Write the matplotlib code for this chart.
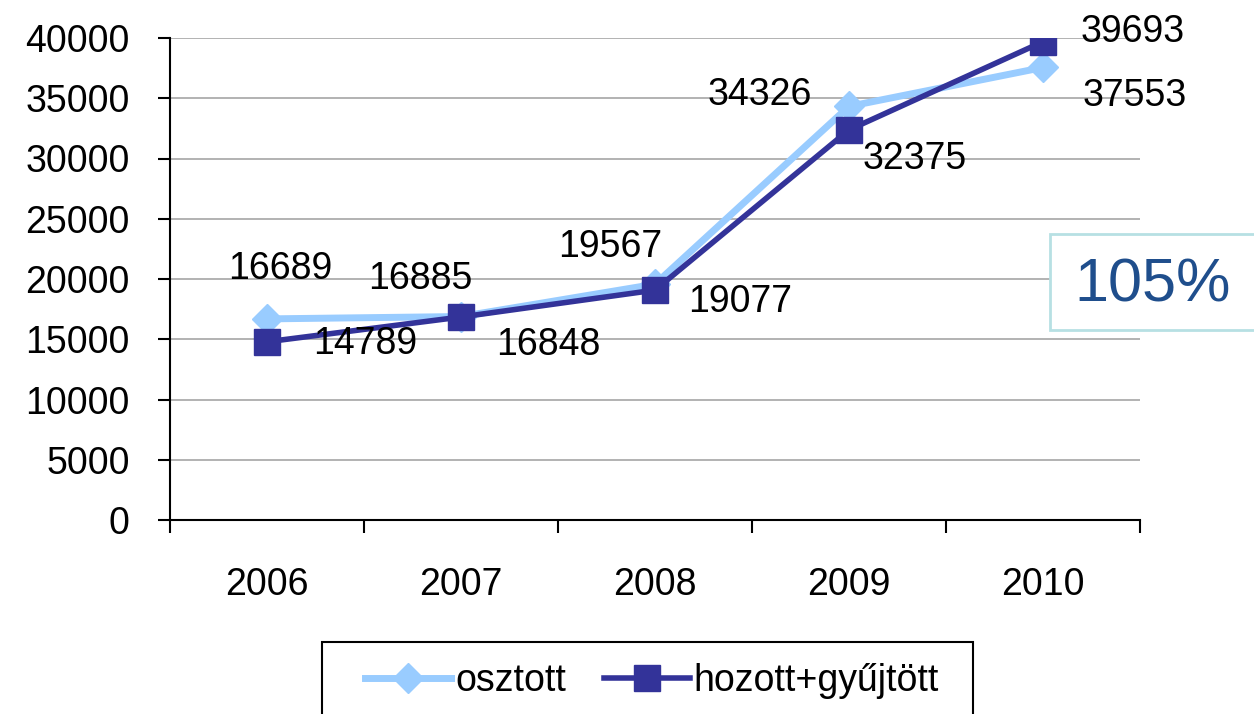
import numpy as np
import matplotlib.pyplot as plt
from matplotlib.patches import Rectangle

plt.rcParams['font.family'] = ['Liberation Sans', 'DejaVu Sans']

years = ['2006', '2007', '2008', '2009', '2010']
osztott = [16689, 16885, 19567, 34326, 37553]
hozott = [14789, 16848, 19077, 32375, 39693]
yticks = np.arange(0, 40001, 5000)

# label offsets in pixels (dx, dy up)
off_osztott = [(13, 50), (-41, 38), (-45, 37), (-89, 11), (92, -29)]
off_hozott = [(98, -2), (87, -28), (85, -12), (66, -29), (90, 10)]

light = '#99CCFF'
dark = '#333399'
FS = 27

fig = plt.figure(figsize=(12.54, 7.14), dpi=100)
ax = fig.add_axes([170 / 1254, 1 - 520 / 714, 970 / 1254, 482 / 714])

x = np.arange(len(years))
ax.plot(x, osztott, color=light, lw=5, marker='D', ms=15, mec=light, label='osztott', zorder=3)
ax.plot(x, hozott, color=dark, lw=4, marker='s', ms=19, mec=dark, label='hozott+gyűjtött', zorder=4)

for xi, v, (dx, dy) in zip(x, osztott, off_osztott):
    ax.annotate(str(v), (xi, v), xytext=(dx * 0.72, dy * 0.72), textcoords='offset points',
                ha='center', va='center', fontsize=FS, zorder=5)
for xi, v, (dx, dy) in zip(x, hozott, off_hozott):
    ax.annotate(str(v), (xi, v), xytext=(dx * 0.72, dy * 0.72), textcoords='offset points',
                ha='center', va='center', fontsize=FS, zorder=5)

ax.set_xlim(-0.5, len(years) - 0.5)
ax.set_ylim(0, 40000)
ax.set_yticks(yticks)
ax.set_yticklabels([str(t) for t in yticks], fontsize=FS)
ax.set_xticks(x)
ax.set_xticklabels(years, fontsize=FS)
ax.set_xticks(np.arange(-0.5, len(years)), minor=True)
ax.tick_params(axis='x', which='major', length=0, pad=34)
ax.tick_params(axis='x', which='minor', length=9, width=1.5, direction='out')
ax.tick_params(axis='y', length=9, width=1.5, direction='out', pad=20)
ax.yaxis.grid(True, color='#A6A6A6', lw=1.2)
ax.set_axisbelow(True)
for s in ['top', 'right']:
    ax.spines[s].set_visible(False)
for s in ['left', 'bottom']:
    ax.spines[s].set_linewidth(1.5)

# 105% box
fig.patches.append(Rectangle((1050 / 1254, 1 - 330 / 714), 300 / 1254, 96 / 714,
                             transform=fig.transFigure, fill=True, fc='white',
                             ec='#B7E0E3', lw=2))
fig.text(1153 / 1254, 1 - 286 / 714, '105%', fontsize=44, color='#1F4E8C',
         ha='center', va='center')

# legend box
fig.patches.append(Rectangle((322 / 1254, -0.05), 651 / 1254, 0.05 + 72 / 714,
                             transform=fig.transFigure, fill=False, ec='black', lw=1.5))
fig.legend(loc='center', bbox_to_anchor=(652 / 1254, 1 - 681 / 714), ncol=2,
           frameon=False, fontsize=FS, handlelength=2.3, handletextpad=0.1,
           columnspacing=1.0)

fig.savefig('out.png', dpi=100)
